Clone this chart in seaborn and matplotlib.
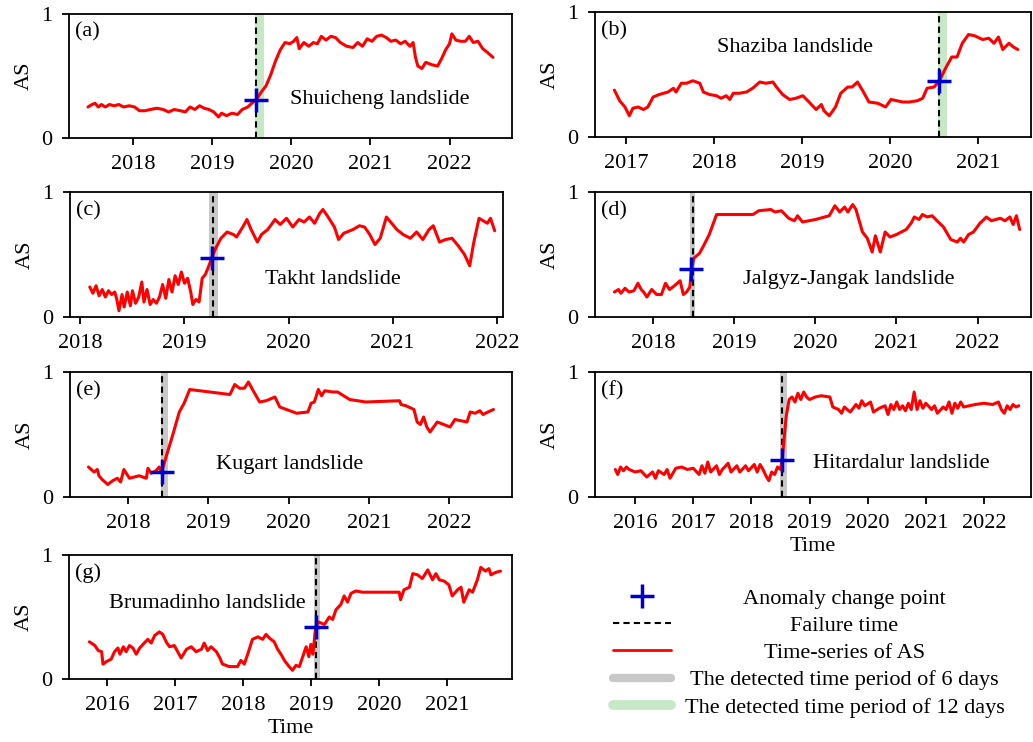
import matplotlib
matplotlib.use("Agg")
import matplotlib.pyplot as plt
from matplotlib.lines import Line2D
from matplotlib.ticker import MultipleLocator, FormatStrFormatter
import seaborn as sns

# ---- data (decimal year, AS) ----
a_year = [2017.43, 2017.48, 2017.52, 2017.56, 2017.6, 2017.65, 2017.7, 2017.76, 2017.82, 2017.88,
          2017.95, 2018.02, 2018.08, 2018.15, 2018.22, 2018.3, 2018.38, 2018.45, 2018.52, 2018.6,
          2018.66, 2018.72, 2018.78, 2018.84, 2018.9, 2018.96, 2019.02, 2019.08, 2019.12, 2019.18,
          2019.25, 2019.32, 2019.38, 2019.45, 2019.5, 2019.56, 2019.62, 2019.68, 2019.74, 2019.8,
          2019.86, 2019.92, 2019.98, 2020.03, 2020.07, 2020.1, 2020.16, 2020.22, 2020.28, 2020.33,
          2020.38, 2020.44, 2020.5, 2020.56, 2020.62, 2020.7, 2020.78, 2020.84, 2020.9, 2020.96,
          2021.02, 2021.08, 2021.14, 2021.2, 2021.26, 2021.32, 2021.38, 2021.44, 2021.5, 2021.54,
          2021.57, 2021.6, 2021.65, 2021.7, 2021.78, 2021.85, 2021.9, 2021.95, 2022.0, 2022.03,
          2022.08, 2022.14, 2022.2, 2022.25, 2022.3, 2022.36, 2022.42, 2022.48, 2022.55]
a_as = [0.25, 0.27, 0.28, 0.25, 0.27, 0.25, 0.27, 0.26, 0.27, 0.25,
        0.26, 0.25, 0.22, 0.22, 0.23, 0.24, 0.23, 0.21, 0.23, 0.22,
        0.21, 0.25, 0.23, 0.26, 0.24, 0.23, 0.21, 0.17, 0.2, 0.18,
        0.2, 0.19, 0.23, 0.25, 0.28, 0.31, 0.37, 0.42, 0.51, 0.62,
        0.71, 0.77, 0.76, 0.78, 0.81, 0.72, 0.77, 0.74, 0.77, 0.76,
        0.82, 0.79, 0.82, 0.81, 0.77, 0.74, 0.73, 0.77, 0.74, 0.8,
        0.78, 0.82, 0.83, 0.81, 0.78, 0.79, 0.76, 0.78, 0.74, 0.77,
        0.65, 0.58, 0.56, 0.61, 0.59, 0.58, 0.64, 0.71, 0.76, 0.84,
        0.79, 0.78, 0.78, 0.82, 0.77, 0.78, 0.72, 0.69, 0.65]

b_year = [2016.87, 2016.93, 2016.99, 2017.04, 2017.08, 2017.14, 2017.2, 2017.25, 2017.31, 2017.38,
          2017.48, 2017.54, 2017.57, 2017.63, 2017.69, 2017.76, 2017.84, 2017.88, 2017.95, 2018.03,
          2018.08, 2018.14, 2018.18, 2018.22, 2018.29, 2018.37, 2018.44, 2018.52, 2018.59, 2018.67,
          2018.71, 2018.78, 2018.86, 2018.93, 2019.01, 2019.08, 2019.16, 2019.22, 2019.25, 2019.31,
          2019.38, 2019.44, 2019.52, 2019.57, 2019.63, 2019.69, 2019.76, 2019.86, 2019.95, 2020.01,
          2020.08, 2020.14, 2020.22, 2020.31, 2020.37, 2020.42, 2020.5, 2020.56, 2020.63, 2020.7,
          2020.76, 2020.82, 2020.89, 2020.96, 2021.05, 2021.12, 2021.18, 2021.23, 2021.28, 2021.35,
          2021.4, 2021.45]
b_as = [0.375, 0.29, 0.24, 0.17, 0.23, 0.24, 0.22, 0.24, 0.32, 0.34,
        0.36, 0.39, 0.36, 0.43, 0.43, 0.45, 0.43, 0.36, 0.34, 0.33,
        0.31, 0.33, 0.3, 0.35, 0.35, 0.36, 0.39, 0.44, 0.43, 0.44,
        0.4, 0.34, 0.3, 0.31, 0.33, 0.28, 0.22, 0.26, 0.21, 0.17,
        0.24, 0.35, 0.4, 0.4, 0.44, 0.37, 0.28, 0.27, 0.24, 0.3,
        0.29, 0.28, 0.28, 0.29, 0.31, 0.39, 0.4, 0.45, 0.55, 0.64,
        0.64, 0.75, 0.82, 0.81, 0.78, 0.79, 0.75, 0.8, 0.7, 0.75,
        0.72, 0.7]

c_year = [2018.09, 2018.12, 2018.15, 2018.18, 2018.21, 2018.24, 2018.27, 2018.3, 2018.33, 2018.35,
          2018.37, 2018.4, 2018.42, 2018.45, 2018.48, 2018.5, 2018.53, 2018.56, 2018.59, 2018.61,
          2018.64, 2018.67, 2018.7, 2018.73, 2018.76, 2018.79, 2018.82, 2018.85, 2018.88, 2018.91,
          2018.94, 2018.97, 2019.0, 2019.03, 2019.06, 2019.08, 2019.11, 2019.14, 2019.17, 2019.2,
          2019.23, 2019.26, 2019.3, 2019.35, 2019.41, 2019.47, 2019.5, 2019.56, 2019.6, 2019.64,
          2019.7, 2019.74, 2019.8, 2019.87, 2019.92, 2019.98, 2020.04, 2020.1, 2020.15, 2020.2,
          2020.25, 2020.3, 2020.33, 2020.38, 2020.44, 2020.48, 2020.53, 2020.62, 2020.68, 2020.73,
          2020.78, 2020.83, 2020.88, 2020.94, 2020.99, 2021.04, 2021.1, 2021.17, 2021.23, 2021.29,
          2021.35, 2021.39, 2021.45, 2021.51, 2021.57, 2021.63, 2021.69, 2021.74, 2021.78, 2021.83,
          2021.87, 2021.91, 2021.94, 2021.98]
c_as = [0.24, 0.19, 0.25, 0.17, 0.22, 0.16, 0.21, 0.18, 0.2, 0.14,
        0.05, 0.18, 0.08, 0.2, 0.09, 0.21, 0.11, 0.16, 0.28, 0.12,
        0.22, 0.1, 0.14, 0.11, 0.16, 0.26, 0.15, 0.3, 0.2, 0.33,
        0.26, 0.36, 0.27, 0.31, 0.2, 0.1, 0.14, 0.12, 0.31, 0.34,
        0.4, 0.47, 0.55, 0.63, 0.68, 0.66, 0.64, 0.72, 0.78, 0.7,
        0.6, 0.66, 0.7, 0.78, 0.74, 0.79, 0.72, 0.78, 0.76, 0.8,
        0.75, 0.83, 0.86, 0.8, 0.72, 0.62, 0.67, 0.7, 0.73, 0.72,
        0.66, 0.58, 0.63, 0.8, 0.75, 0.7, 0.66, 0.63, 0.68, 0.62,
        0.7, 0.73, 0.6, 0.62, 0.63, 0.57, 0.5, 0.41, 0.6, 0.79,
        0.77, 0.75, 0.79, 0.69]

d_year = [2017.52, 2017.57, 2017.6, 2017.65, 2017.7, 2017.76, 2017.81, 2017.85, 2017.88, 2017.92,
          2017.98, 2018.04, 2018.1, 2018.15, 2018.2, 2018.26, 2018.33, 2018.37, 2018.41, 2018.45,
          2018.47, 2018.5, 2018.57, 2018.62, 2018.69, 2018.78, 2019.23, 2019.3, 2019.45, 2019.5,
          2019.58, 2019.67, 2019.74, 2019.78, 2019.84, 2020.0, 2020.17, 2020.24, 2020.3, 2020.36,
          2020.4, 2020.46, 2020.5, 2020.58, 2020.64, 2020.7, 2020.74, 2020.8, 2020.86, 2020.92,
          2021.0, 2021.12, 2021.18, 2021.22, 2021.28, 2021.32, 2021.38, 2021.44, 2021.5, 2021.58,
          2021.67, 2021.75, 2021.79, 2021.83, 2021.89, 2021.95, 2022.03, 2022.11, 2022.17, 2022.28,
          2022.34, 2022.4, 2022.44, 2022.48, 2022.52]
d_as = [0.2, 0.22, 0.19, 0.23, 0.2, 0.21, 0.27, 0.22, 0.2, 0.16,
        0.22, 0.18, 0.18, 0.27, 0.22, 0.25, 0.29, 0.18, 0.2, 0.24,
        0.38, 0.47, 0.51, 0.57, 0.66, 0.82, 0.82, 0.85, 0.86, 0.84,
        0.85, 0.79, 0.77, 0.81, 0.76, 0.78, 0.81, 0.89, 0.84, 0.88,
        0.84, 0.9, 0.86, 0.68, 0.63, 0.52, 0.65, 0.52, 0.68, 0.64,
        0.66, 0.7, 0.75, 0.8, 0.78, 0.82, 0.8, 0.81, 0.77, 0.72,
        0.62, 0.6, 0.63, 0.6, 0.66, 0.68, 0.75, 0.8, 0.77, 0.79,
        0.77, 0.8, 0.74, 0.81, 0.7]

e_year = [2017.51, 2017.58, 2017.62, 2017.64, 2017.68, 2017.75, 2017.81, 2017.87, 2017.91, 2017.95,
          2018.02, 2018.14, 2018.23, 2018.25, 2018.29, 2018.35, 2018.39, 2018.42, 2018.48, 2018.56,
          2018.64, 2018.7, 2018.77, 2019.27, 2019.33, 2019.39, 2019.45, 2019.5, 2019.56, 2019.64,
          2019.72, 2019.83, 2019.89, 2020.1, 2020.24, 2020.28, 2020.32, 2020.37, 2020.41, 2020.45,
          2020.55, 2020.61, 2020.76, 2020.96, 2021.38, 2021.4, 2021.46, 2021.56, 2021.6, 2021.64,
          2021.68, 2021.72, 2021.76, 2021.85, 2022.01, 2022.07, 2022.22, 2022.26, 2022.32, 2022.38,
          2022.42, 2022.48, 2022.55]
e_as = [0.24, 0.2, 0.22, 0.17, 0.14, 0.1, 0.13, 0.15, 0.12, 0.22,
        0.15, 0.17, 0.15, 0.23, 0.19, 0.21, 0.24, 0.2, 0.33, 0.5,
        0.68, 0.75, 0.86, 0.82, 0.9, 0.87, 0.87, 0.92, 0.85, 0.76,
        0.77, 0.8, 0.72, 0.67, 0.68, 0.75, 0.76, 0.86, 0.81, 0.85,
        0.84, 0.84, 0.78, 0.76, 0.77, 0.74, 0.73, 0.7, 0.6, 0.58,
        0.64, 0.56, 0.52, 0.6, 0.56, 0.62, 0.6, 0.68, 0.67, 0.69,
        0.66, 0.68, 0.7]

f_year = [2015.66, 2015.7, 2015.75, 2015.8, 2015.85, 2015.9, 2016.0, 2016.1, 2016.2, 2016.3,
          2016.35, 2016.4, 2016.5, 2016.55, 2016.6, 2016.7, 2016.8, 2016.9, 2017.0, 2017.1,
          2017.15, 2017.2, 2017.25, 2017.3, 2017.4, 2017.45, 2017.5, 2017.6, 2017.65, 2017.75,
          2017.8, 2017.9, 2017.95, 2018.05, 2018.1, 2018.15, 2018.2, 2018.25, 2018.3, 2018.35,
          2018.4, 2018.45, 2018.5, 2018.53, 2018.56, 2018.6, 2018.65, 2018.7, 2018.75, 2018.8,
          2018.85, 2018.9, 2018.95, 2019.0, 2019.1, 2019.2, 2019.35, 2019.4, 2019.5, 2019.55,
          2019.6, 2019.7, 2019.8, 2019.85, 2019.9, 2019.95, 2020.05, 2020.1, 2020.2, 2020.3,
          2020.35, 2020.4, 2020.45, 2020.5, 2020.55, 2020.6, 2020.65, 2020.7, 2020.75, 2020.8,
          2020.85, 2020.9, 2020.95, 2021.0, 2021.1, 2021.15, 2021.2, 2021.3, 2021.35, 2021.4,
          2021.45, 2021.5, 2021.55, 2021.6, 2021.65, 2021.75, 2021.85, 2022.0, 2022.15, 2022.25,
          2022.3, 2022.35, 2022.4, 2022.45, 2022.5, 2022.55, 2022.6]
f_as = [0.22, 0.18, 0.24, 0.21, 0.24, 0.22, 0.2, 0.21, 0.16, 0.2,
        0.15, 0.21, 0.18, 0.22, 0.15, 0.23, 0.24, 0.22, 0.23, 0.18,
        0.25, 0.19, 0.28, 0.2, 0.25, 0.18, 0.22, 0.27, 0.2, 0.25,
        0.2, 0.25, 0.21, 0.26, 0.2, 0.26, 0.22, 0.17, 0.13, 0.2,
        0.18, 0.24, 0.22, 0.3, 0.45, 0.65, 0.78, 0.8, 0.76, 0.83,
        0.78, 0.84, 0.8, 0.78, 0.8, 0.81, 0.8, 0.72, 0.7, 0.67,
        0.72, 0.68, 0.74, 0.71, 0.77, 0.73, 0.76, 0.68, 0.71, 0.73,
        0.66, 0.74, 0.7, 0.76, 0.7, 0.73, 0.69, 0.75, 0.7, 0.84,
        0.7, 0.77, 0.71, 0.75, 0.7, 0.73, 0.67, 0.72, 0.7, 0.76,
        0.67, 0.75, 0.71, 0.76, 0.72, 0.73, 0.74, 0.75, 0.74, 0.76,
        0.7, 0.67, 0.73, 0.7, 0.74, 0.72, 0.73]

g_year = [2015.74, 2015.82, 2015.87, 2015.92, 2015.94, 2015.99, 2016.06, 2016.11, 2016.16, 2016.19,
          2016.24, 2016.28, 2016.33, 2016.38, 2016.43, 2016.48, 2016.53, 2016.6, 2016.65, 2016.7,
          2016.77, 2016.82, 2016.87, 2016.92, 2016.99, 2017.04, 2017.09, 2017.17, 2017.24, 2017.31,
          2017.39, 2017.43, 2017.48, 2017.53, 2017.61, 2017.66, 2017.7, 2017.8, 2017.92, 2017.97,
          2018.02, 2018.07, 2018.14, 2018.22, 2018.29, 2018.34, 2018.39, 2018.46, 2018.51, 2018.56,
          2018.61, 2018.68, 2018.73, 2018.78, 2018.83, 2018.88, 2018.93, 2018.97, 2019.0, 2019.03,
          2019.07, 2019.11, 2019.2, 2019.27, 2019.32, 2019.37, 2019.44, 2019.49, 2019.54, 2019.59,
          2019.66, 2019.76, 2020.3, 2020.32, 2020.37, 2020.45, 2020.5, 2020.57, 2020.64, 2020.72,
          2020.79, 2020.84, 2020.89, 2020.96, 2021.03, 2021.08, 2021.16, 2021.21, 2021.25, 2021.33,
          2021.38, 2021.45, 2021.5, 2021.57, 2021.62, 2021.65, 2021.72, 2021.79]
g_as = [0.3, 0.27, 0.23, 0.22, 0.12, 0.14, 0.16, 0.22, 0.25, 0.2,
        0.26, 0.22, 0.27, 0.25, 0.2, 0.25, 0.28, 0.32, 0.29, 0.35,
        0.38, 0.36, 0.3, 0.26, 0.27, 0.22, 0.17, 0.24, 0.26, 0.22,
        0.24, 0.29, 0.23, 0.26, 0.22, 0.17, 0.12, 0.1, 0.1, 0.15,
        0.12, 0.2, 0.32, 0.34, 0.32, 0.36, 0.33, 0.3, 0.24, 0.2,
        0.15, 0.1, 0.07, 0.11, 0.1, 0.18, 0.26, 0.18, 0.28, 0.2,
        0.42, 0.46, 0.44, 0.5, 0.48, 0.56, 0.6, 0.67, 0.62, 0.69,
        0.71, 0.7, 0.7, 0.64, 0.72, 0.74, 0.85, 0.84, 0.81, 0.88,
        0.8, 0.85, 0.8, 0.79, 0.76, 0.67, 0.72, 0.74, 0.62, 0.72,
        0.7, 0.8, 0.9, 0.87, 0.89, 0.84, 0.86, 0.87]

panel_letters = ["(a)", "(b)", "(c)", "(d)", "(e)", "(f)", "(g)"]
names = ["Shuicheng landslide", "Shaziba landslide", "Takht landslide", "Jalgyz-Jangak landslide",
         "Kugart landslide", "Hitardalur landslide", "Brumadinho landslide"]
failure_time = [2019.56, 2020.56, 2019.27, 2018.49, 2018.43, 2018.53, 2019.08]
band_start = [2019.54, 2020.54, 2019.24, 2018.45, 2018.41, 2018.49, 2019.04]
band_end = [2019.66, 2020.65, 2019.32, 2018.52, 2018.50, 2018.61, 2019.14]
band_kind = ["12", "12", "6", "6", "6", "6", "6"]
cp_year = [2019.56, 2020.56, 2019.26, 2018.47, 2018.42, 2018.53, 2019.07]
cp_as = [0.31, 0.45, 0.47, 0.38, 0.20, 0.30, 0.42]

# ---- style ----
sns.set_style("ticks")
plt.rcParams["font.family"] = ["Liberation Serif", "DejaVu Serif"]
plt.rcParams["font.size"] = 16
plt.rcParams["axes.linewidth"] = 1.3
for key in ["text.color", "axes.labelcolor", "xtick.color", "ytick.color", "axes.edgecolor"]:
    plt.rcParams[key] = "black"

RED = "#ff0000"
BLUE = "#0000cc"
GRAY = "#c8c8c8"
GREEN = "#c6e8c6"

W, H = 1033, 742
fig = plt.figure(figsize=(W / 100, H / 100), dpi=100)

# pixel boxes (left, right, top, bottom) and x-limits for each panel
boxes = [(69, 512, 14, 138), (595, 1031, 12, 137),
         (70, 503, 192, 317), (595, 1031, 192, 317),
         (70, 512, 372, 497), (595, 1031, 372, 497),
         (69, 512, 555, 679)]
xlims = [(2017.19, 2022.79), (2016.65, 2021.60), (2017.90, 2022.06), (2017.28, 2022.66),
         (2017.28, 2022.78), (2015.31, 2022.81), (2015.44, 2021.96)]
# where the name text sits, axes fraction (x left, y centre)
name_pos = [(0.50, 0.31), (0.28, 0.72), (0.45, 0.30), (0.34, 0.30),
            (0.33, 0.26), (0.50, 0.27), (0.09, 0.61)]

series = [(a_year, a_as), (b_year, b_as), (c_year, c_as), (d_year, d_as),
          (e_year, e_as), (f_year, f_as), (g_year, g_as)]

for i, (xs, ys) in enumerate(series):
    l, r, t, b = boxes[i]
    ax = fig.add_axes([l / W, 1 - b / H, (r - l) / W, (b - t) / H])
    band_col = GREEN if band_kind[i] == "12" else GRAY
    ax.axvspan(band_start[i], band_end[i], color=band_col, lw=0, zorder=1)
    ax.axvline(failure_time[i], color="k", ls="--", dashes=(3, 2), lw=1.5, zorder=2)
    sns.lineplot(x=xs, y=ys, ax=ax, color=RED, lw=2.2, estimator=None, sort=False, zorder=3)
    ax.plot([cp_year[i]], [cp_as[i]], "+", color=BLUE, ms=17, mew=2.5, zorder=4)

    ax.set_xlim(*xlims[i])
    ax.set_ylim(0, 1)
    ax.set_yticks([0, 1])
    ax.set_yticklabels(["0", "1"])
    ax.xaxis.set_major_locator(MultipleLocator(1))
    ax.xaxis.set_major_formatter(FormatStrFormatter("%d"))
    ax.tick_params(direction="out", length=5, width=1.3, labelsize=16, pad=7, colors="black")
    for sp in ax.spines.values():
        sp.set_visible(True)
        sp.set_color("black")
    ax.set_ylabel("AS", fontsize=16, labelpad=5)
    ax.set_xlabel("")
    if i in (5, 6):
        ax.set_xlabel("Time", fontsize=16, labelpad=3)

    ax.text(0.013, 0.93, panel_letters[i], transform=ax.transAxes, ha="left", va="top", fontsize=16)
    nx, ny = name_pos[i]
    ax.text(nx, ny, names[i], transform=ax.transAxes, ha="left", va="center", fontsize=16)

handles = [
    Line2D([], [], ls="none", marker="+", color=BLUE, ms=17, mew=2.5),
    Line2D([], [], color="k", ls="--", dashes=(3, 2), lw=1.5),
    Line2D([], [], color=RED, lw=2),
    Line2D([], [], color=GRAY, lw=6),
    Line2D([], [], color=GREEN, lw=7),
]
labels = ["Anomaly change point", "Failure time", "Time-series of AS",
          "The detected time period of 6 days", "The detected time period of 12 days"]
leg = fig.legend(handles, labels, loc="center", bbox_to_anchor=(0.783, 0.12), frameon=False,
                 fontsize=16, handlelength=2.6, labelspacing=0.3, handletextpad=0.6)

# centre the legend texts in their column like the original
fig.canvas.draw()
texts = leg.get_texts()
widths = [t.get_window_extent().width for t in texts]
wmax = max(widths)
for t, w in zip(texts, widths):
    t.set_x((wmax - w) / 2)

fig.savefig("out.png", dpi=100)
